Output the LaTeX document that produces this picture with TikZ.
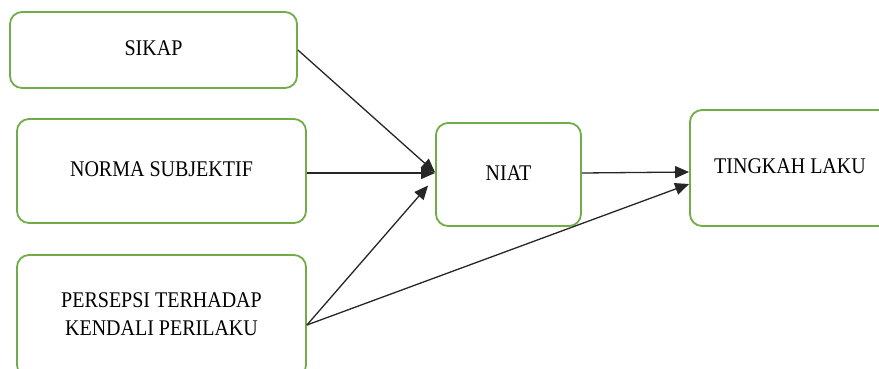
\documentclass[tikz,border=0pt]{standalone}
\usepackage{fontspec}
\setmainfont{Liberation Serif}
\usetikzlibrary{arrows.meta,calc}
\definecolor{boxgreen}{HTML}{70AD47}
\newcommand{\stx}[1]{\scalebox{1}[1.12]{\begin{tabular}{@{}c@{}}#1\end{tabular}}}
\begin{document}
\begin{tikzpicture}[x=1pt,y=-1pt,
  box/.style={draw=boxgreen, line width=1.8pt, rounded corners=12pt, fill=white,
    inner sep=0pt, align=center, font=\fontsize{20}{25}\selectfont},
  arr/.style={line width=1.3pt, draw=black!85, -{Triangle[length=14pt,width=12pt]}}]
\useasboundingbox (0,0) rectangle (879,368);
\clip (0,0) rectangle (879,368);
\node[box, minimum width=287pt, minimum height=76pt] (sikap) at (153.5,50) {\stx{SIKAP}};
\node[box, minimum width=289pt, minimum height=104pt] (norma) at (161.5,171) {\raisebox{-5pt}{\stx{NORMA SUBJEKTIF}}};
\node[box, minimum width=289pt, minimum height=122pt] (persepsi) at (161.5,316) {\stx{PERSEPSI TERHADAP\\KENDALI PERILAKU}};
\node[box, minimum width=145pt, minimum height=103pt] (niat) at (508.5,174.5) {\stx{NIAT}};
\node[box, minimum width=200pt, minimum height=116pt] (laku) at (790,168) {\raisebox{-4pt}{\stx{TINGKAH LAKU}}};
\draw[arr] ($(sikap.east)+(0,0)$) -- ($(niat.west)+(0,-2)$);
\draw[arr] ($(norma.east)+(0,2)$) -- ($(niat.west)+(0,-1.5)$);
\draw[arr] ($(persepsi.east)+(0,9)$) -- ($(niat.west)+(-7,11)$);
\draw[arr] ($(niat.east)+(0,-1.5)$) -- ($(laku.west)+(0,4)$);
\draw[arr] ($(persepsi.east)+(0,9)$) -- ($(laku.west)+(0,16)$);
\end{tikzpicture}
\end{document}
